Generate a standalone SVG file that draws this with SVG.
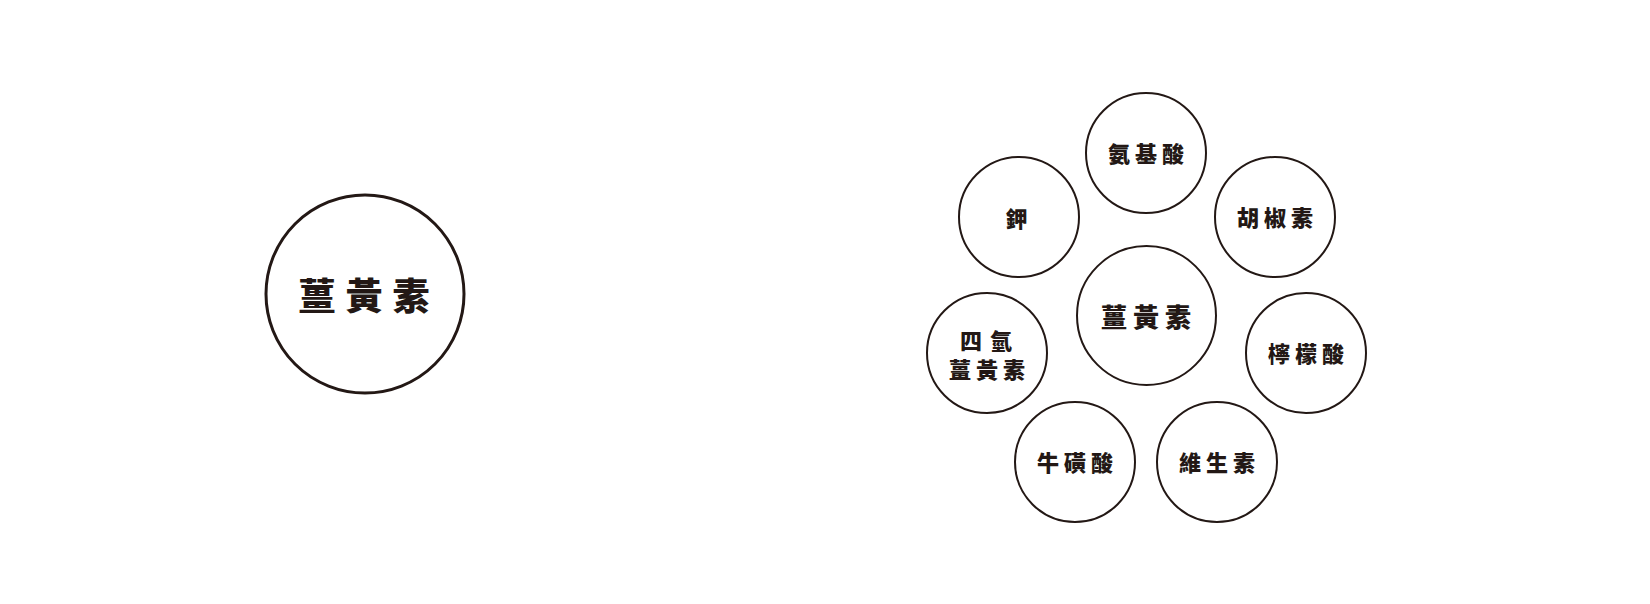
<svg xmlns="http://www.w3.org/2000/svg" width="1650" height="604" viewBox="0 0 1650 604">
<style>
circle{fill:#fff;stroke:#231815;stroke-width:2}
text{font-family:"Noto Sans CJK TC","Noto Sans CJK SC",sans-serif;font-weight:900;fill:#231815;text-anchor:middle;dominant-baseline:central}
.s{font-size:22px;letter-spacing:5px}
</style>
<rect width="1650" height="604" fill="#fff"/>
<g id="main"><circle cx="365" cy="294" r="99" style="stroke-width:3"/><text x="369" y="294" style="font-size:37px;letter-spacing:10px">薑黃素</text></g>
<g id="center"><circle cx="1146.5" cy="315.5" r="69.5"/><text x="1149" y="315" style="font-size:26px;letter-spacing:6px">薑黃素</text></g>
<g id="n1"><circle cx="1146" cy="153" r="60"/><text class="s" x="1148.5" y="152">氨基酸</text></g>
<g id="n2"><circle cx="1019" cy="217" r="60"/><text class="s" x="1019" y="217">鉀</text></g>
<g id="n3"><circle cx="1275" cy="217" r="60"/><text class="s" x="1277.5" y="216">胡椒素</text></g>
<g id="n4"><circle cx="987" cy="353" r="60"/><text class="s" x="990" y="339" style="letter-spacing:8px">四氫</text><text class="s" x="989.5" y="368">薑黃素</text></g>
<g id="n5"><circle cx="1306" cy="353" r="60"/><text class="s" x="1308.5" y="352">檸檬酸</text></g>
<g id="n6"><circle cx="1075" cy="462" r="60"/><text class="s" x="1077.5" y="461">牛磺酸</text></g>
<g id="n7"><circle cx="1217" cy="462" r="60"/><text class="s" x="1219.5" y="461">維生素</text></g>
<g id="connectors"/>
</svg>
